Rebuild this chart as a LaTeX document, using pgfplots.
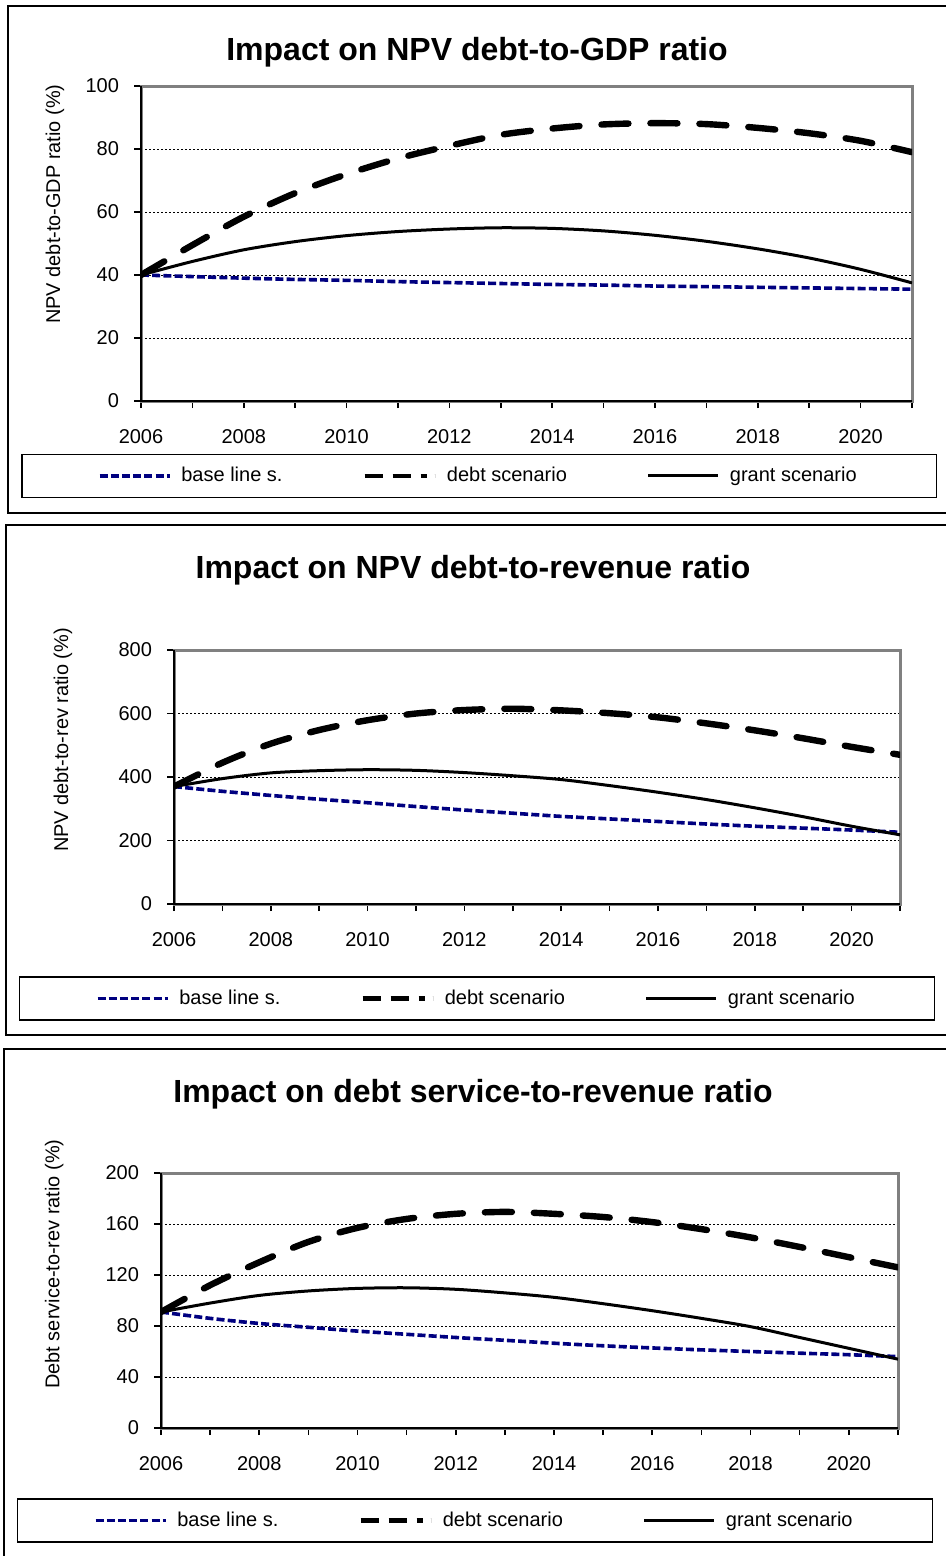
\documentclass[border=0pt]{standalone}
\usepackage{pgfplots}
\pgfplotsset{compat=1.18}
\usepackage{fontspec}
\setmainfont{Liberation Sans}

\definecolor{baseblue}{RGB}{0,0,128}
\definecolor{boxgray}{RGB}{128,128,128}
\newcommand\txt{\fontsize{10bp}{12bp}\selectfont}

% one series per column: year, base line, debt scenario, grant scenario
\pgfplotstableread{
year base debt grant
2006 40.0 40.0 40.0
2007 39.5 49.5 44.3
2008 39.0 58.5 48.0
2009 38.6 66.0 50.6
2010 38.3 72.0 52.5
2011 37.9 77.0 53.8
2012 37.6 81.0 54.6
2013 37.3 84.5 55.0
2014 37.0 86.5 54.8
2015 36.8 87.8 54.0
2016 36.5 88.2 52.6
2017 36.3 87.9 50.7
2018 36.1 86.7 48.3
2019 35.9 85.0 45.4
2020 35.7 82.6 41.8
2021 35.5 79.0 37.5
}\gdp
\pgfplotstableread{
year base debt grant
2006 370 370 370
2007 355 445 395
2008 342 505 413
2009 330 548 420
2010 319 579 423
2011 307 600 421
2012 296 611 414
2013 286 615 404
2014 276 610 392
2015 268 601 373
2016 260 588 352
2017 252 569 329
2018 245 547 303
2019 239 522 275
2020 233 495 245
2021 226 470 218
}\rev
\pgfplotstableread{
year base debt grant
2006 91.0 91.0 91.0
2007 86.0 112.0 98.0
2008 82.0 130.0 104.0
2009 79.0 146.0 107.5
2010 76.0 157.0 109.5
2011 73.5 164.0 110.0
2012 71.0 168.0 108.8
2013 68.8 169.5 106.0
2014 66.5 168.0 102.5
2015 64.5 165.5 97.5
2016 62.8 161.5 92.0
2017 61.3 156.0 86.0
2018 60.0 149.5 79.5
2019 58.7 142.0 71.0
2020 57.5 134.0 62.5
2021 56.0 126.0 54.0
}\ds

\pgfplotsset{
  panel/.style={
    scale only axis,
    xmin=2006, xmax=2021,
    xtick={2006,...,2021},
    xticklabels={2006,,2008,,2010,,2012,,2014,,2016,,2018,,2020,},
    ymin=0,
    tick align=outside,
    xtick pos=bottom, ytick pos=left,
    major tick length=3.5bp,
    tick style={black, line width=0.8bp},
    axis line style={boxgray, line width=1.5bp},
    ymajorgrids,
    major grid style={black, line width=0.5bp, dash pattern=on 1bp off 1bp},
    ticklabel style={font=\txt},
    /pgf/number format/assume math mode=true,
    xticklabel style={yshift=-7bp},
    yticklabel style={xshift=-4bp},
    label style={font=\fontsize{10.6bp}{12bp}\selectfont},
    clip mode=individual,
    legend columns=3,
    legend image code/.code={\draw[##1] (0bp,0bp) -- (35bp,0bp);},
    legend style={draw=black, line width=0.75bp, font=\txt, anchor=west,
      inner xsep=38bp, inner ysep=4.5bp,
      /tikz/every odd column/.append style={column sep=3bp},
      /tikz/every even column/.append style={column sep=38bp}},
  },
  baseline/.style={baseblue, line width=1.8bp, dash pattern=on 4bp off 1.6bp, smooth},
  debtline/.style={black, line width=3.2bp, line cap=round, dash pattern=on 13.5bp off 11bp, smooth,
    legend image post style={line width=2.2bp, line cap=butt, dash pattern=on 9bp off 5bp on 9bp off 5bp on 3bp off 4bp}},
  grantline/.style={black, line width=1.5bp, smooth},
}

\begin{document}
\begin{tikzpicture}
\useasboundingbox (0,0) rectangle (473bp,-778bp);
\draw[black, line width=1bp] (4bp,-3bp) rectangle (480bp,-256.5bp);
\draw[black, line width=1bp] (3bp,-262.5bp) rectangle (480bp,-517.5bp);
\draw[black, line width=1bp] (2bp,-524.5bp) rectangle (480bp,-790bp);

\node[anchor=base, font=\fontsize{16bp}{18bp}\selectfont\bfseries] at (238.5bp,-30bp) {Impact on NPV debt-to-GDP ratio};
\node[anchor=base, font=\fontsize{16bp}{18bp}\selectfont\bfseries] at (236.5bp,-289bp) {Impact on NPV debt-to-revenue ratio};
\node[anchor=base, font=\fontsize{16bp}{18bp}\selectfont\bfseries] at (236.5bp,-551bp) {Impact on debt service-to-revenue ratio};

% panel 1
\begin{axis}[panel,
  at={(70.5bp,-200.5bp)}, anchor=south west,
  width=385.5bp, height=157.5bp,
  ymax=100, ytick={0,20,...,100},
  ylabel={NPV debt-to-GDP ratio (\%)},
  every axis y label/.style={at={(axis description cs:-0.1115,0.625)}, rotate=90, anchor=center},
  legend style={at={(axis description cs:-0.1556,-0.238)}},
]
\draw[black, line width=1bp] (rel axis cs:0,1) -- (rel axis cs:0,0) -- (rel axis cs:1,0);
\addplot[baseline] table[x=year, y=base] {\gdp};
\addplot[debtline] table[x=year, y=debt] {\gdp};
\addplot[grantline] table[x=year, y=grant] {\gdp};
\legend{base line s., debt scenario, grant scenario}
\end{axis}

% panel 2
\begin{axis}[panel,
  at={(87bp,-452bp)}, anchor=south west,
  width=363bp, height=127bp,
  ymax=800, ytick={0,200,...,800},
  ylabel={NPV debt-to-rev ratio (\%)},
  every axis y label/.style={at={(axis description cs:-0.153,0.646)}, rotate=90, anchor=center},
  legend style={at={(axis description cs:-0.2135,-0.372)}},
]
\draw[black, line width=1bp] (rel axis cs:0,1) -- (rel axis cs:0,0) -- (rel axis cs:1,0);
\addplot[baseline] table[x=year, y=base] {\rev};
\addplot[debtline] table[x=year, y=debt] {\rev};
\addplot[grantline] table[x=year, y=grant] {\rev};
\legend{base line s., debt scenario, grant scenario}
\end{axis}

% panel 3
\begin{axis}[panel,
  at={(80.5bp,-714bp)}, anchor=south west,
  width=368.5bp, height=127.5bp,
  ymax=200, ytick={0,40,...,200},
  ylabel={Debt service-to-rev ratio (\%)},
  every axis y label/.style={at={(axis description cs:-0.145,0.643)}, rotate=90, anchor=center},
  legend style={at={(axis description cs:-0.1954,-0.3627)}},
]
\draw[black, line width=1bp] (rel axis cs:0,1) -- (rel axis cs:0,0) -- (rel axis cs:1,0);
\addplot[baseline] table[x=year, y=base] {\ds};
\addplot[debtline] table[x=year, y=debt] {\ds};
\addplot[grantline] table[x=year, y=grant] {\ds};
\legend{base line s., debt scenario, grant scenario}
\end{axis}
\end{tikzpicture}
\end{document}
